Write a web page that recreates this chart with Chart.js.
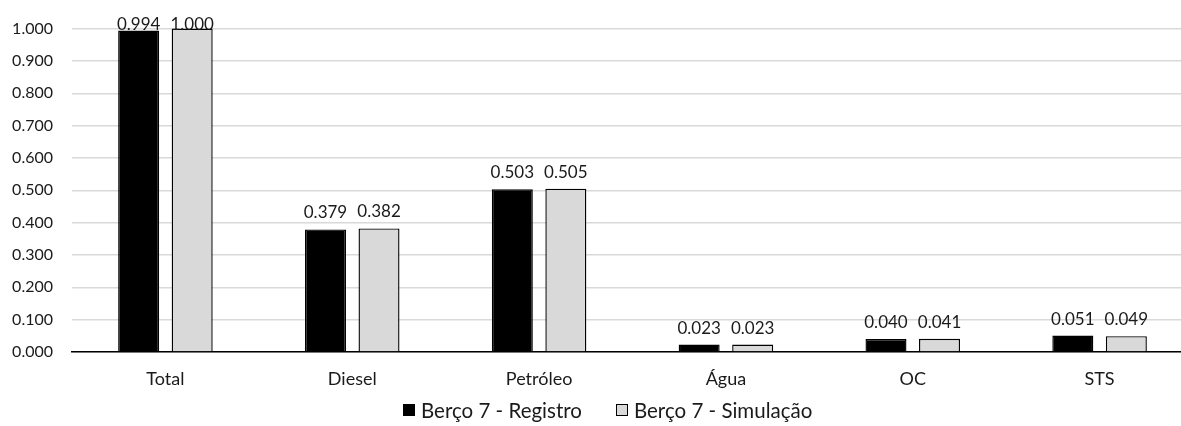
<!DOCTYPE html>
<html>
<head>
<meta charset="utf-8">
<script src="https://cdn.jsdelivr.net/npm/chart.js@4.4.1/dist/chart.umd.min.js"></script>
<style>
  html, body { margin: 0; padding: 0; background: #fff; overflow: hidden; }
  #wrap { position: relative; width: 1181px; height: 426px; overflow: hidden; }
  #chart { position: absolute; left: 0; top: 0; }
  #legend {
    position: absolute; left: 403px; top: 397px; height: 26px;
    display: flex; align-items: center; white-space: nowrap;
    font-family: Lato, "Open Sans", sans-serif; font-size: 20.5px; color: #1a1a1a;
  }
  .item { display: flex; align-items: center; margin-right: 34px; }
  .swatch { width: 12px; height: 12px; box-sizing: border-box; border: 1px solid #000; margin-right: 6px; }
</style>
</head>
<body>
<div id="wrap">
  <canvas id="chart" width="1205" height="426"></canvas>
  <div id="legend"></div>
</div>
<script>
// Categories and series
const categories = ['Total', 'Diesel', 'Petróleo', 'Água', 'OC', 'STS'];
const seriesNames = ['Berço 7 - Registro', 'Berço 7 - Simulação'];
const registro = [0.994, 0.379, 0.503, 0.023, 0.040, 0.051];
const simulacao = [1.000, 0.382, 0.505, 0.023, 0.041, 0.049];
const seriesColors = ['#000000', '#d9d9d9'];

// Value axis range
const yMin = 0;
const yMax = 1;
const yStep = 0.1;

const FONT = 'Lato, "Open Sans", sans-serif';
const TEXT = '#1a1a1a';

// Value labels above each bar
const valueLabels = {
  id: 'valueLabels',
  afterDatasetsDraw(chart) {
    const ctx = chart.ctx;
    ctx.save();
    ctx.font = '17px ' + FONT;
    ctx.fillStyle = TEXT;
    ctx.textAlign = 'center';
    ctx.textBaseline = 'alphabetic';
    chart.data.datasets.forEach((ds, di) => {
      const meta = chart.getDatasetMeta(di);
      meta.data.forEach((bar, i) => {
        const y = Math.max(bar.y - 11, chart.chartArea.top + 1);
        ctx.fillText(ds.data[i].toFixed(3), bar.x, y);
      });
    });
    ctx.restore();
  }
};

const datasets = [registro, simulacao].map((vals, k) => ({
  label: seriesNames[k],
  data: vals,
  backgroundColor: seriesColors[k],
  borderColor: '#000000',
  borderWidth: 1.4,
  barPercentage: 0.766,
  categoryPercentage: 0.573
}));

new Chart(document.getElementById('chart'), {
  type: 'bar',
  data: { labels: categories, datasets },
  options: {
    responsive: false,
    animation: false,
    layout: { padding: { left: 0, right: 12, top: 28, bottom: 34 } },
    plugins: { legend: { display: false }, tooltip: { enabled: false } },
    scales: {
      x: {
        grid: { display: false },
        border: { display: true, color: '#000000', width: 1.5 },
        ticks: { font: { family: FONT, size: 18 }, color: TEXT, padding: 8 },
        afterFit(scale) { scale.height = 40; }
      },
      y: {
        min: yMin, max: yMax,
        grid: { color: '#d9d9d9', lineWidth: 1.5, drawTicks: false },
        border: { display: false },
        ticks: {
          stepSize: yStep,
          padding: 19,
          font: { family: FONT, size: 16 },
          color: TEXT,
          callback: v => Number(v).toFixed(3)
        },
        afterFit(scale) { scale.width = 72; }
      }
    }
  },
  plugins: [valueLabels]
});

// Legend
const legend = document.getElementById('legend');
seriesNames.forEach((name, k) => {
  const item = document.createElement('div');
  item.className = 'item';
  const sw = document.createElement('span');
  sw.className = 'swatch';
  sw.style.background = seriesColors[k];
  const tx = document.createElement('span');
  tx.textContent = name;
  item.appendChild(sw);
  item.appendChild(tx);
  legend.appendChild(item);
});
</script>
</body>
</html>
